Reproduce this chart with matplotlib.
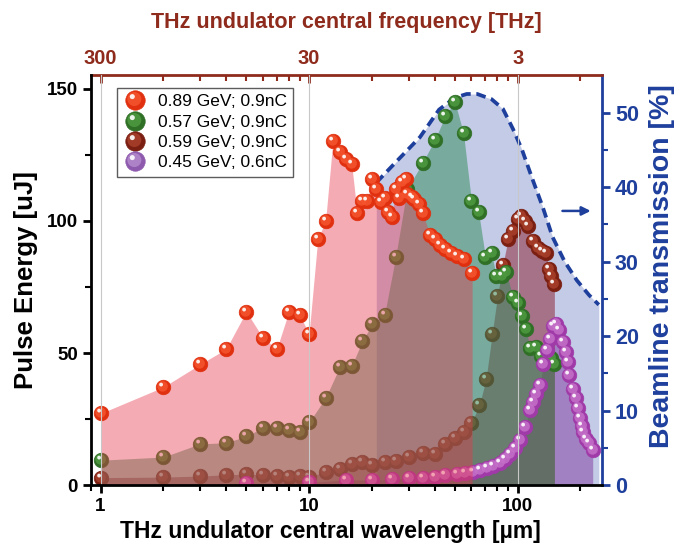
import numpy as np
import matplotlib
matplotlib.use("Agg")
import matplotlib.pyplot as plt
from matplotlib.path import Path
from matplotlib.lines import Line2D
from matplotlib.legend_handler import HandlerTuple
from matplotlib.ticker import FixedLocator, NullFormatter

plt.rcParams['font.family'] = ['Liberation Sans', 'DejaVu Sans']

# ---------------- data ----------------
red_x = [1, 2, 3, 4, 5, 6, 7, 8, 9, 10, 11, 12, 13, 14, 15, 16, 17, 18, 19, 20, 21, 22, 23, 24, 25, 26,
         27, 28, 29, 29.5, 31, 32, 33.5, 35, 38, 40, 42.5, 45, 48, 51, 55, 60.5]
red_y = [27.1, 37.1, 45.7, 51.5, 65.7, 55.8, 51.5, 65.7, 64.5, 57.3, 93.0, 100.1, 130.2, 126.0, 123.3,
         121.6, 103.0, 107.4, 107.4, 115.9, 112.0, 107.3, 108.9, 103.4, 101.7, 112.1, 108.8, 114.6, 116.0,
         110.3, 109.2, 108.5, 106.5, 103.0, 94.8, 93.2, 91.0, 89.4, 87.8, 86.9, 85.6, 80.2]

green_x = [1, 2, 3, 4, 5, 6, 7, 8, 9, 10, 12, 14, 16, 18, 20, 23, 26, 29.5, 35, 40, 45, 50, 55, 60, 65,
           70, 75, 79, 84, 88, 95, 100, 105, 110, 114, 122, 130, 138, 145, 150]
green_y = [9.4, 10.6, 15.6, 16.0, 18.5, 21.7, 21.7, 20.8, 19.9, 23.8, 33.0, 44.6, 45.1, 54.5, 60.8, 64.5,
           86.3, 112.0, 122.1, 130.6, 139.8, 145.1, 133.2, 107.7, 103.3, 86.5, 87.8, 79.0, 79.0, 80.6, 71.2,
           69.0, 64.0, 59.0, 52.0, 52.3, 48.7, 48.3, 48.2, 46.0]

brown_x = [1, 2, 3, 4, 5, 6, 7, 8, 9, 10, 12, 14, 16, 18, 20, 23, 26, 30, 35, 40, 45, 50, 55, 60, 65.5,
           70.5, 75.5, 80, 85, 90, 95, 100, 104, 108, 112, 118, 125, 131, 137, 141, 145, 150]
brown_y = [2.8, 3.0, 3.4, 3.9, 4.1, 3.9, 3.5, 3.2, 3.4, 3.2, 5.0, 6.0, 7.9, 8.6, 7.6, 8.6, 9.1, 10.5, 12.0,
           11.7, 15.4, 17.9, 20.1, 23.5, 30.2, 40.0, 57.3, 71.5, 83.5, 93.2, 96.3, 100.8, 102.0, 100.0,
           98.2, 92.3, 89.8, 88.5, 87.8, 81.9, 79.0, 76.2]

purple_x = [5, 10, 15, 20, 25, 30, 35, 40, 45, 51, 56, 61, 66, 71, 76, 82, 87, 92, 97, 103, 108, 115, 119,
            123, 128, 133, 138, 143, 148, 153, 158, 165, 171, 174, 177, 184, 190, 195, 199, 203, 206, 213,
            220, 229]
purple_y = [0.6, 1.0, 1.9, 1.9, 2.1, 2.5, 2.6, 3.1, 3.8, 4.2, 4.7, 5.0, 5.7, 6.3, 7.2, 8.4, 9.7, 11.7, 13.9,
            17.0, 22.0, 28.3, 31.5, 34.6, 37.8, 46.0, 51.0, 55.4, 60.4, 61.0, 58.6, 54.1, 50.4, 46.6, 41.6,
            36.5, 32.8, 29.0, 25.2, 22.3, 20.1, 17.6, 15.8, 13.2]

trans_x = [21, 27, 34, 42, 50, 57, 64, 75, 85, 95, 105, 118, 132, 147, 168, 192, 220, 245]
trans_y = [40.6, 43.8, 46.7, 50.4, 52.0, 52.5, 52.5, 51.8, 50.5, 47.8, 45.0, 41.0, 37.3, 33.3, 30.0,
           27.5, 25.5, 24.2]

labels = ["0.89 GeV; 0.9nC", "0.57 GeV; 0.9nC", "0.59 GeV; 0.9nC", "0.45 GeV; 0.6nC"]
freq_ticks = [300, 30, 3]
freq_ticklabels = ["300", "30", "3"]
wl_ticks = [1, 10, 100]
wl_ticklabels = ["1", "10", "100"]

# ---------------- styles ----------------
DARKRED = '#8E2B1C'
BLUE = '#1E3F9C'

def marker_path(cx, cy, r):
    c = Path.circle((cx, cy), r)
    verts = np.vstack([[[1, 1], [-1, -1]], c.vertices])
    codes = np.concatenate([[Path.MOVETO, Path.MOVETO], c.codes])
    return Path(verts, codes)

MID = marker_path(-0.12, 0.15, 0.72)
HIGH = marker_path(-0.33, 0.40, 0.26)

def sphere(ax, x, y, base, mid, ms=10.5, z=3):
    ax.plot(x, y, ls='none', marker='o', ms=ms, mfc=base, mec=base, mew=0.5, zorder=z)
    ax.plot(x, y, ls='none', marker=MID, ms=ms, mfc=mid, mec='none', alpha=0.85, zorder=z)
    ax.plot(x, y, ls='none', marker=HIGH, ms=ms, mfc='white', mec='none', alpha=0.9, zorder=z)

def sphere_handle(base, mid, ms=14):
    return (Line2D([], [], ls='none', marker='o', ms=ms, mfc=base, mec=base, mew=0.5),
            Line2D([], [], ls='none', marker=MID, ms=ms, mfc=mid, mec='none', alpha=0.85),
            Line2D([], [], ls='none', marker=HIGH, ms=ms, mfc='white', mec='none', alpha=0.9))

# colours: fill colour, fill alpha, marker base, marker mid
C_RED = ('#E8374A', 0.42, '#E0300F', '#F5542F')
C_GREEN = ('#2E8B57', 0.5, '#2F6F26', '#4E9A40')
C_BROWN = ('#8E2A3A', 0.55, '#7A1F12', '#A8402A')
C_PURPLE = ('#8C50AA', 0.6, '#A03AA8', '#C470C8')
C_PURPLE_LEG = ('#8E5AAE', '#B48ACC')

fig = plt.figure(figsize=(6.82, 5.47), dpi=100)
ax = fig.add_axes([0.1334, 0.1133, 0.7489, 0.7496])
ax.set_xscale('log')
ax2 = ax.twinx()
ax.set_zorder(ax2.get_zorder() + 1)
ax.patch.set_visible(False)

# transmission
ax2.fill_between(trans_x, trans_y, 0, color='#3B55B0', alpha=0.3, lw=0)
ax2.plot(trans_x, trans_y, color=BLUE, lw=2.7, ls=(0, (2.6, 1.5)))
ax2.annotate('', xy=(224, 36.8), xytext=(164, 36.8),
             arrowprops=dict(arrowstyle='-|>', color=BLUE, lw=1.8, mutation_scale=13,
                             shrinkA=0, shrinkB=0))
ax2.set_ylim(0, 55.05)

# energy series (layer order reproduces which markers are covered by fills)
ax.fill_between(purple_x, purple_y, 0, color=C_PURPLE[0], alpha=C_PURPLE[1], lw=0, zorder=1.0)
ax.fill_between(brown_x, brown_y, 0, color=C_BROWN[0], alpha=C_BROWN[1], lw=0, zorder=1.1)
sphere(ax, brown_x, brown_y, C_BROWN[2], C_BROWN[3], z=1.15)
ax.fill_between(green_x, green_y, 0, color=C_GREEN[0], alpha=C_GREEN[1], lw=0, zorder=1.2)
sphere(ax, green_x, green_y, C_GREEN[2], C_GREEN[3], z=1.25)
sphere(ax, purple_x, purple_y, C_PURPLE[2], C_PURPLE[3], z=1.27)
ax.fill_between(red_x, red_y, 0, color=C_RED[0], alpha=C_RED[1], lw=0, zorder=1.3)
sphere(ax, red_x, red_y, C_RED[2], C_RED[3], z=1.35)

ax.set_xlim(0.9, 253)
ax.set_ylim(0, 155.3)
ax.grid(axis='x', which='major', color='#C8C8C8', lw=0.8, zorder=2)

# axes styling
for s in ['top', 'right']:
    ax.spines[s].set_visible(False)
for s in ['left', 'bottom']:
    ax.spines[s].set_linewidth(2)
for s in ['left', 'top', 'bottom']:
    ax2.spines[s].set_visible(False)
ax2.spines['right'].set_color(BLUE)
ax2.spines['right'].set_linewidth(2)

ax.set_xticks(wl_ticks)
ax.set_xticklabels(wl_ticklabels)
ax.set_yticks([0, 50, 100, 150])
ax.yaxis.set_minor_locator(FixedLocator([25, 75, 125]))
ax.tick_params(which='major', direction='out', length=6, width=2, labelsize=13.5)
ax.tick_params(which='minor', direction='out', length=4, width=1.5)
for t in ax.get_xticklabels() + ax.get_yticklabels():
    t.set_fontweight('bold')

ax2.set_yticks([0, 10, 20, 30, 40, 50])
ax2.yaxis.set_minor_locator(FixedLocator([5, 15, 25, 35, 45]))
ax2.tick_params(which='major', direction='out', length=6, width=2, labelsize=15.5,
                colors=BLUE)
ax2.tick_params(which='minor', direction='out', length=4, width=1.5, colors=BLUE)
for t in ax2.get_yticklabels():
    t.set_fontweight('bold')

# top frequency axis
secax = ax.secondary_xaxis('top', functions=(lambda w: 300.0 / np.asarray(w, float),
                                              lambda f: 300.0 / np.asarray(f, float)))
secax.set_xticks(freq_ticks)
secax.set_xticklabels(freq_ticklabels)
freq_minor = [300.0 / (m * d) for d in (1, 10, 100) for m in range(2, 10) if m * d < 253]
secax.xaxis.set_minor_locator(FixedLocator(freq_minor))
secax.xaxis.set_minor_formatter(NullFormatter())
secax.spines['top'].set_color(DARKRED)
secax.spines['top'].set_linewidth(2)
secax.tick_params(which='major', direction='in', length=6, width=2, labelsize=14.5,
                  colors=DARKRED, pad=5)
secax.tick_params(which='minor', direction='in', length=4, width=1.5, colors=DARKRED)
for t in secax.get_xticklabels():
    t.set_fontweight('bold')
secax.set_xlabel('THz undulator central frequency [THz]', fontsize=15.5, fontweight='bold',
                 color=DARKRED, labelpad=15)

ax.set_xlabel('THz undulator central wavelength [µm]', fontsize=16.5, fontweight='bold')
ax.xaxis.set_label_coords(0.468, -0.085)
ax.set_ylabel('Pulse Energy [uJ]', fontsize=18.5, fontweight='bold', labelpad=6)
ax2.set_ylabel('Beamline transmission [%]', fontsize=20.5, fontweight='bold', color=BLUE)
ax2.yaxis.set_label_coords(1.093, 0.535)

handles = [sphere_handle(c[2], c[3]) for c in (C_RED, C_GREEN, C_BROWN)]
handles.append(sphere_handle(*C_PURPLE_LEG))
leg = ax.legend(handles, labels, handler_map={tuple: HandlerTuple(ndivide=1)},
                loc='upper left', bbox_to_anchor=(0.051, 0.968), borderaxespad=0,
                fontsize=12.5, frameon=True, fancybox=False, edgecolor='#333333',
                handlelength=1.4, handletextpad=0.6, labelspacing=0.3, borderpad=0.35)
leg.get_frame().set_linewidth(1.0)
leg.set_zorder(10)

fig.savefig('out.png', dpi=100)
